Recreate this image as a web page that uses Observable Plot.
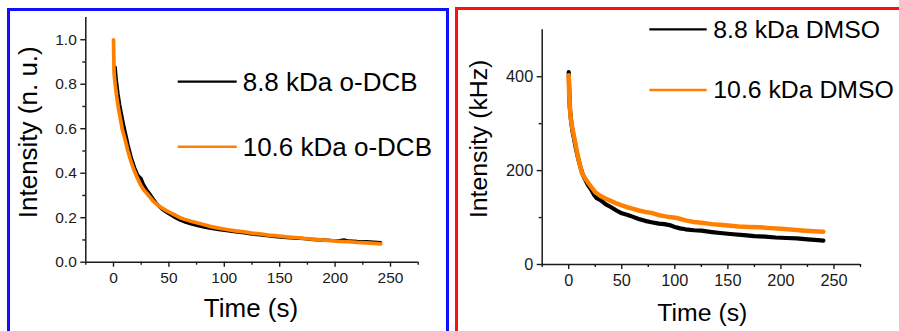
<!DOCTYPE html>
<html>
<head>
<meta charset="utf-8">
<script src="https://cdn.jsdelivr.net/npm/d3@7"></script>
<script src="https://cdn.jsdelivr.net/npm/@observablehq/plot@0.6"></script>
<style>
  html, body { margin: 0; padding: 0; background: #fff; }
  #page { position: relative; width: 899px; height: 331px; overflow: hidden;
          font-family: "Liberation Sans", Arial, sans-serif; }
  .box { position: absolute; box-sizing: border-box; }
  #box-left  { left: 7px;   top: 8px; width: 442px; height: 360px; border: 3px solid #1010ff; }
  #box-right { left: 455px; top: 7px; width: 470px; height: 360px; border: 3px solid #ff1010; }
  .chart { position: absolute; top: 0; }
  .chart svg { overflow: visible; }
</style>
</head>
<body>
<div id="page">
  <div class="box" id="box-left"></div>
  <div class="box" id="box-right"></div>
  <div class="chart" id="chart-left" style="left:0px"></div>
  <div class="chart" id="chart-right" style="left:450px"></div>
</div>
<script>
// Photobleaching decays of the 8.8 kDa and 10.6 kDa samples

// o-DCB, normalised intensity
const dcbTime88 = [1.5, 2.5, 4, 5.5, 7, 9, 11, 13, 16, 19, 22, 25, 27, 30, 33, 36, 40, 44, 48, 52, 56, 60, 65, 70, 76, 82, 88, 95, 102, 110, 118, 125, 132, 140, 148, 156, 164, 172, 180, 188, 196, 204, 208, 212, 220, 228, 235, 241];
const dcbInt88  = [0.877, 0.82, 0.76, 0.71, 0.67, 0.62, 0.575, 0.53, 0.47, 0.425, 0.39, 0.375, 0.35, 0.325, 0.305, 0.283, 0.257, 0.238, 0.224, 0.212, 0.2, 0.19, 0.18, 0.172, 0.165, 0.158, 0.152, 0.147, 0.142, 0.137, 0.132, 0.127, 0.123, 0.119, 0.114, 0.111, 0.109, 0.106, 0.102, 0.1, 0.098, 0.097, 0.1, 0.095, 0.093, 0.092, 0.09, 0.088];
const dcbTime106 = [0, 0.5, 1.5, 3, 4.5, 6, 8, 10.5, 13, 15, 18, 21, 24, 27, 30, 33, 36, 40, 44, 48, 52, 56, 60, 64, 70, 76, 82, 88, 95, 102, 110, 118, 125, 132, 140, 148, 156, 164, 172, 180, 188, 196, 204, 212, 220, 228, 235, 241];
const dcbInt106  = [1.0, 0.85, 0.8, 0.74, 0.69, 0.65, 0.595, 0.55, 0.5, 0.465, 0.42, 0.385, 0.352, 0.327, 0.31, 0.292, 0.274, 0.257, 0.243, 0.231, 0.221, 0.211, 0.2, 0.193, 0.184, 0.176, 0.168, 0.16, 0.153, 0.147, 0.141, 0.136, 0.131, 0.127, 0.122, 0.118, 0.114, 0.111, 0.107, 0.104, 0.1, 0.097, 0.094, 0.092, 0.089, 0.087, 0.085, 0.082];

// DMSO, count rate in kHz
const dmsoTime88 = [0, 0.5, 1, 2, 3.5, 5, 7, 9, 11, 13, 15, 18, 21, 24, 26, 30, 35, 40, 45, 50, 55, 60, 66, 72, 78, 85, 90, 95, 100, 105, 110, 118, 125, 135, 145, 155, 165, 175, 185, 195, 205, 215, 225, 235, 240];
const dmsoInt88  = [410, 370, 335, 310, 285, 268, 245, 225, 208, 193, 183, 170, 160, 148, 142, 137, 128, 122, 115, 109, 106, 102, 97, 93, 90, 87, 86, 84, 80, 77, 75, 73, 72, 69, 66.5, 64.5, 62.5, 60.5, 59.5, 57.5, 56.5, 55.5, 53.5, 52, 51];
const dmsoTime106 = [0, 0.3, 1.6, 3.2, 5.7, 9.4, 12.6, 15, 19, 22, 25, 30, 35, 40, 45, 50, 55, 60, 66, 72, 78, 85, 90, 95, 102, 110, 118, 125, 135, 145, 150, 160, 170, 180, 190, 200, 212, 220, 230, 240];
const dmsoInt106  = [403, 371, 318, 293, 265, 222, 194, 185, 172, 163, 154, 146, 140, 135, 130, 126, 122, 119, 115, 112, 110, 105, 103, 101, 99, 94, 90.5, 89, 86, 84, 83, 81, 80, 79.5, 77.5, 76, 74, 72.5, 71, 70];

const timeTicks = [0, 50, 100, 150, 200, 250];
const timeMinor = [-25, 25, 75, 125, 175, 225, 275];
const dcbTicks  = [0, 0.2, 0.4, 0.6, 0.8, 1.0];
const dcbMinor  = [0.1, 0.3, 0.5, 0.7, 0.9];
const dmsoTicks = [0, 200, 400];
const dmsoMinor = [100, 300];

const seriesColors = {small: "#000000", large: "#ff8000"};

const toRows = (ts, vs) => ts.map((t, i) => ({t, v: vs[i]}));

function decayPanel(o) {
  const [x0] = o.xDomain, [y0] = o.yDomain;
  const svg = Plot.plot({
    width: o.width,
    height: 331,
    marginLeft: o.margin.left,
    marginRight: o.margin.right,
    marginTop: o.margin.top,
    marginBottom: o.margin.bottom,
    style: {fontFamily: "'Liberation Sans', Arial, sans-serif", color: "#1a1a1a", background: "transparent", overflow: "visible"},
    x: {domain: o.xDomain},
    y: {domain: o.yDomain},
    marks: [
      Plot.axisX({ticks: timeTicks, tickSize: 5, tickPadding: 5, fontSize: o.tickFont, label: null, strokeWidth: 1.4}),
      Plot.axisX({ticks: timeMinor, tickSize: 3, tickFormat: () => "", label: null, strokeWidth: 1.4}),
      Plot.axisY({ticks: o.yTicks, tickSize: 5, tickPadding: 4, fontSize: o.tickFont, tickFormat: o.yFormat, label: null, strokeWidth: 1.4}),
      Plot.axisY({ticks: o.yMinor, tickSize: 3, tickFormat: () => "", label: null, strokeWidth: 1.4}),
      Plot.ruleX([x0], {stroke: "#1a1a1a", strokeWidth: 1.5}),
      Plot.ruleY([y0], {stroke: "#1a1a1a", strokeWidth: 1.5}),
      Plot.line(o.small, {x: "t", y: "v", stroke: seriesColors.small, strokeWidth: o.lineWidth}),
      Plot.line(o.large, {x: "t", y: "v", stroke: seriesColors.large, strokeWidth: o.lineWidth + 0.3}),
      Plot.text([o.yTitle], {frameAnchor: "left", rotate: -90, lineAnchor: "bottom", textAnchor: "middle",
        dx: o.yTitleOffset[0], dy: o.yTitleOffset[1], fontSize: o.titleFont, fill: "#000"}),
      Plot.text(["Time (s)"], {frameAnchor: "bottom", lineAnchor: "bottom", textAnchor: "middle",
        dx: o.xTitleOffset[0], dy: o.xTitleOffset[1], fontSize: o.titleFont, fill: "#000"})
    ]
  });

  // legend: a short line swatch followed by the series name
  const g = d3.select(svg).append("g")
    .attr("font-family", "'Liberation Sans', Arial, sans-serif")
    .attr("font-size", o.titleFont)
    .attr("text-anchor", "start");
  o.legend.items.forEach((item, i) => {
    const y = o.legend.y + i * o.legend.step;
    g.append("line")
      .attr("x1", o.legend.x).attr("x2", o.legend.x + o.legend.swatch)
      .attr("y1", y).attr("y2", y)
      .attr("stroke", item.color).attr("stroke-width", item.color === "#000000" ? 2.2 : 2.6);
    g.append("text")
      .attr("x", o.legend.x + o.legend.swatch + o.legend.gap)
      .attr("y", y + o.legend.baseline)
      .attr("text-anchor", "start")
      .attr("fill", "#000")
      .text(item.label);
  });
  return svg;
}

document.getElementById("chart-left").append(decayPanel({
  width: 450,
  margin: {left: 85.3, right: 32.3, top: 17, bottom: 69.3},
  xDomain: [-25, 275],
  yDomain: [0, 1.1],
  yTicks: dcbTicks,
  yMinor: dcbMinor,
  yFormat: d3.format(".1f"),
  tickFont: 15.5,
  titleFont: 26,
  lineWidth: 3.4,
  small: toRows(dcbTime88, dcbInt88),
  large: toRows(dcbTime106, dcbInt106),
  yTitle: "Intensity (n. u.)",
  yTitleOffset: [-48.6, -7.6],
  xTitleOffset: [-1, 55],
  legend: {x: 177.7, y: 81.7, step: 65, swatch: 59, gap: 6, baseline: 9,
    items: [{label: "8.8 kDa o-DCB", color: seriesColors.small},
            {label: "10.6 kDa o-DCB", color: seriesColors.large}]}
}));

document.getElementById("chart-right").append(decayPanel({
  width: 449,
  margin: {left: 91.7, right: 39, top: 29.3, bottom: 67},
  xDomain: [-25, 275],
  yDomain: [0, 500],
  yTicks: dmsoTicks,
  yMinor: dmsoMinor,
  yFormat: d3.format("d"),
  tickFont: 16.3,
  titleFont: 24.8,
  lineWidth: 4.2,
  small: toRows(dmsoTime88, dmsoInt88),
  large: toRows(dmsoTime106, dmsoInt106),
  yTitle: "Intensity (kHz)",
  yTitleOffset: [-55, -8.3],
  xTitleOffset: [1, 56],
  legend: {x: 199.3, y: 29.3, step: 60.7, swatch: 57.4, gap: 6.6, baseline: 8.3,
    items: [{label: "8.8 kDa DMSO", color: seriesColors.small},
            {label: "10.6 kDa DMSO", color: seriesColors.large}]}
}));
</script>
</body>
</html>
